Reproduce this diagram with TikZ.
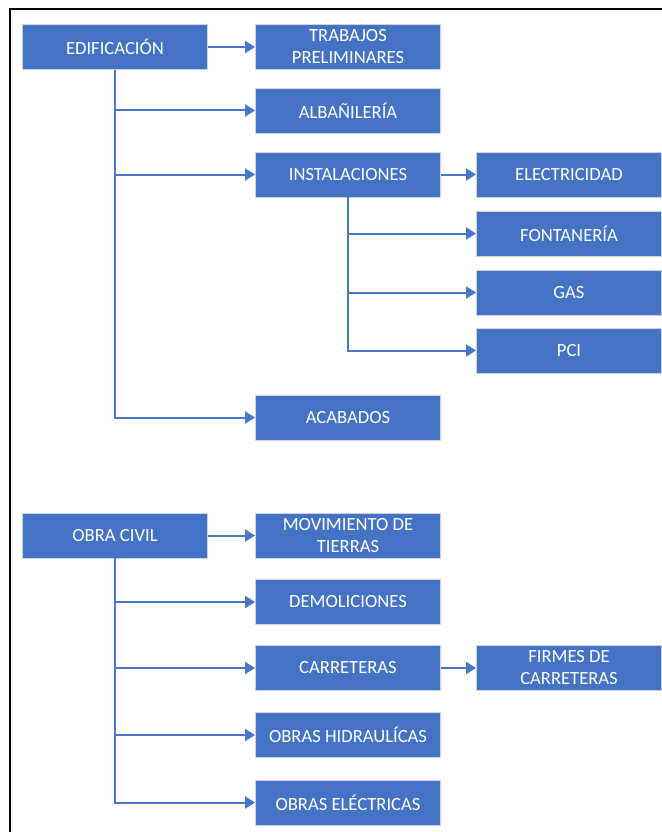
\documentclass[tikz,border=0pt]{standalone}
\usepackage{fontspec}
\setmainfont{Carlito}
\usetikzlibrary{arrows.meta}
\definecolor{boxblue}{RGB}{68,114,196}
\definecolor{lineblue}{RGB}{72,118,200}
\definecolor{boxedge}{RGB}{205,210,220}
\begin{document}
\begin{tikzpicture}[x=1pt,y=-1pt,
  box/.style={draw=boxedge, line width=0.9pt, fill=boxblue, text=white,
    minimum width=185pt, minimum height=45pt, inner sep=0pt, align=center,
    font=\fontsize{18.6}{22}\selectfont},
  conn/.style={draw=lineblue, line width=2pt, -{Triangle[length=10pt,width=12pt]}},
  trunk/.style={draw=lineblue, line width=2pt}]
\useasboundingbox (0,0) rectangle (661,832);
\draw[line width=2.4pt] (670,9) -- (10,9) -- (10,840);
% Edificacion
\node[box] (edif) at (115,47) {EDIFICACIÓN};
\node[box] (trab) at (348,47) {TRABAJOS\\PRELIMINARES};
\node[box] (alba) at (348,110.5) {ALBAÑILERÍA};
\node[box] (inst) at (348,174.5) {INSTALACIONES};
\node[box] (elec) at (569,174.5) {ELECTRICIDAD};
\node[box] (font) at (569,233.5) {FONTANERÍA};
\node[box] (gas) at (569,292.5) {GAS};
\node[box] (pci) at (569,350.5) {PCI};
\node[box] (acab) at (348,417.5) {ACABADOS};
% Obra civil
\node[box] (obra) at (115,535.5) {OBRA CIVIL};
\node[box] (movi) at (348,535.5) {MOVIMIENTO DE\\TIERRAS};
\node[box] (demo) at (348,602) {DEMOLICIONES};
\node[box] (carr) at (348,668) {CARRETERAS};
\node[box] (firm) at (569,668) {FIRMES DE\\CARRETERAS};
\node[box] (hidr) at (348,735) {OBRAS HIDRAULÍCAS};
\node[box] (elect) at (348,802.5) {OBRAS ELÉCTRICAS};
% connectors
\draw[conn] (edif) -- (trab);
\draw[conn] (edif.south) |- (alba.west);
\draw[conn] (edif.south) |- (inst.west);
\draw[conn] (edif.south) |- (acab.west);
\draw[conn] (inst) -- (elec);
\draw[conn] (inst.south) |- (font.west);
\draw[conn] (inst.south) |- (gas.west);
\draw[conn] (inst.south) |- (pci.west);
\draw[conn] (obra) -- (movi);
\draw[conn] (obra.south) |- (demo.west);
\draw[conn] (obra.south) |- (carr.west);
\draw[conn] (obra.south) |- (hidr.west);
\draw[conn] (obra.south) |- (elect.west);
\draw[conn] (carr) -- (firm);
\end{tikzpicture}
\end{document}
